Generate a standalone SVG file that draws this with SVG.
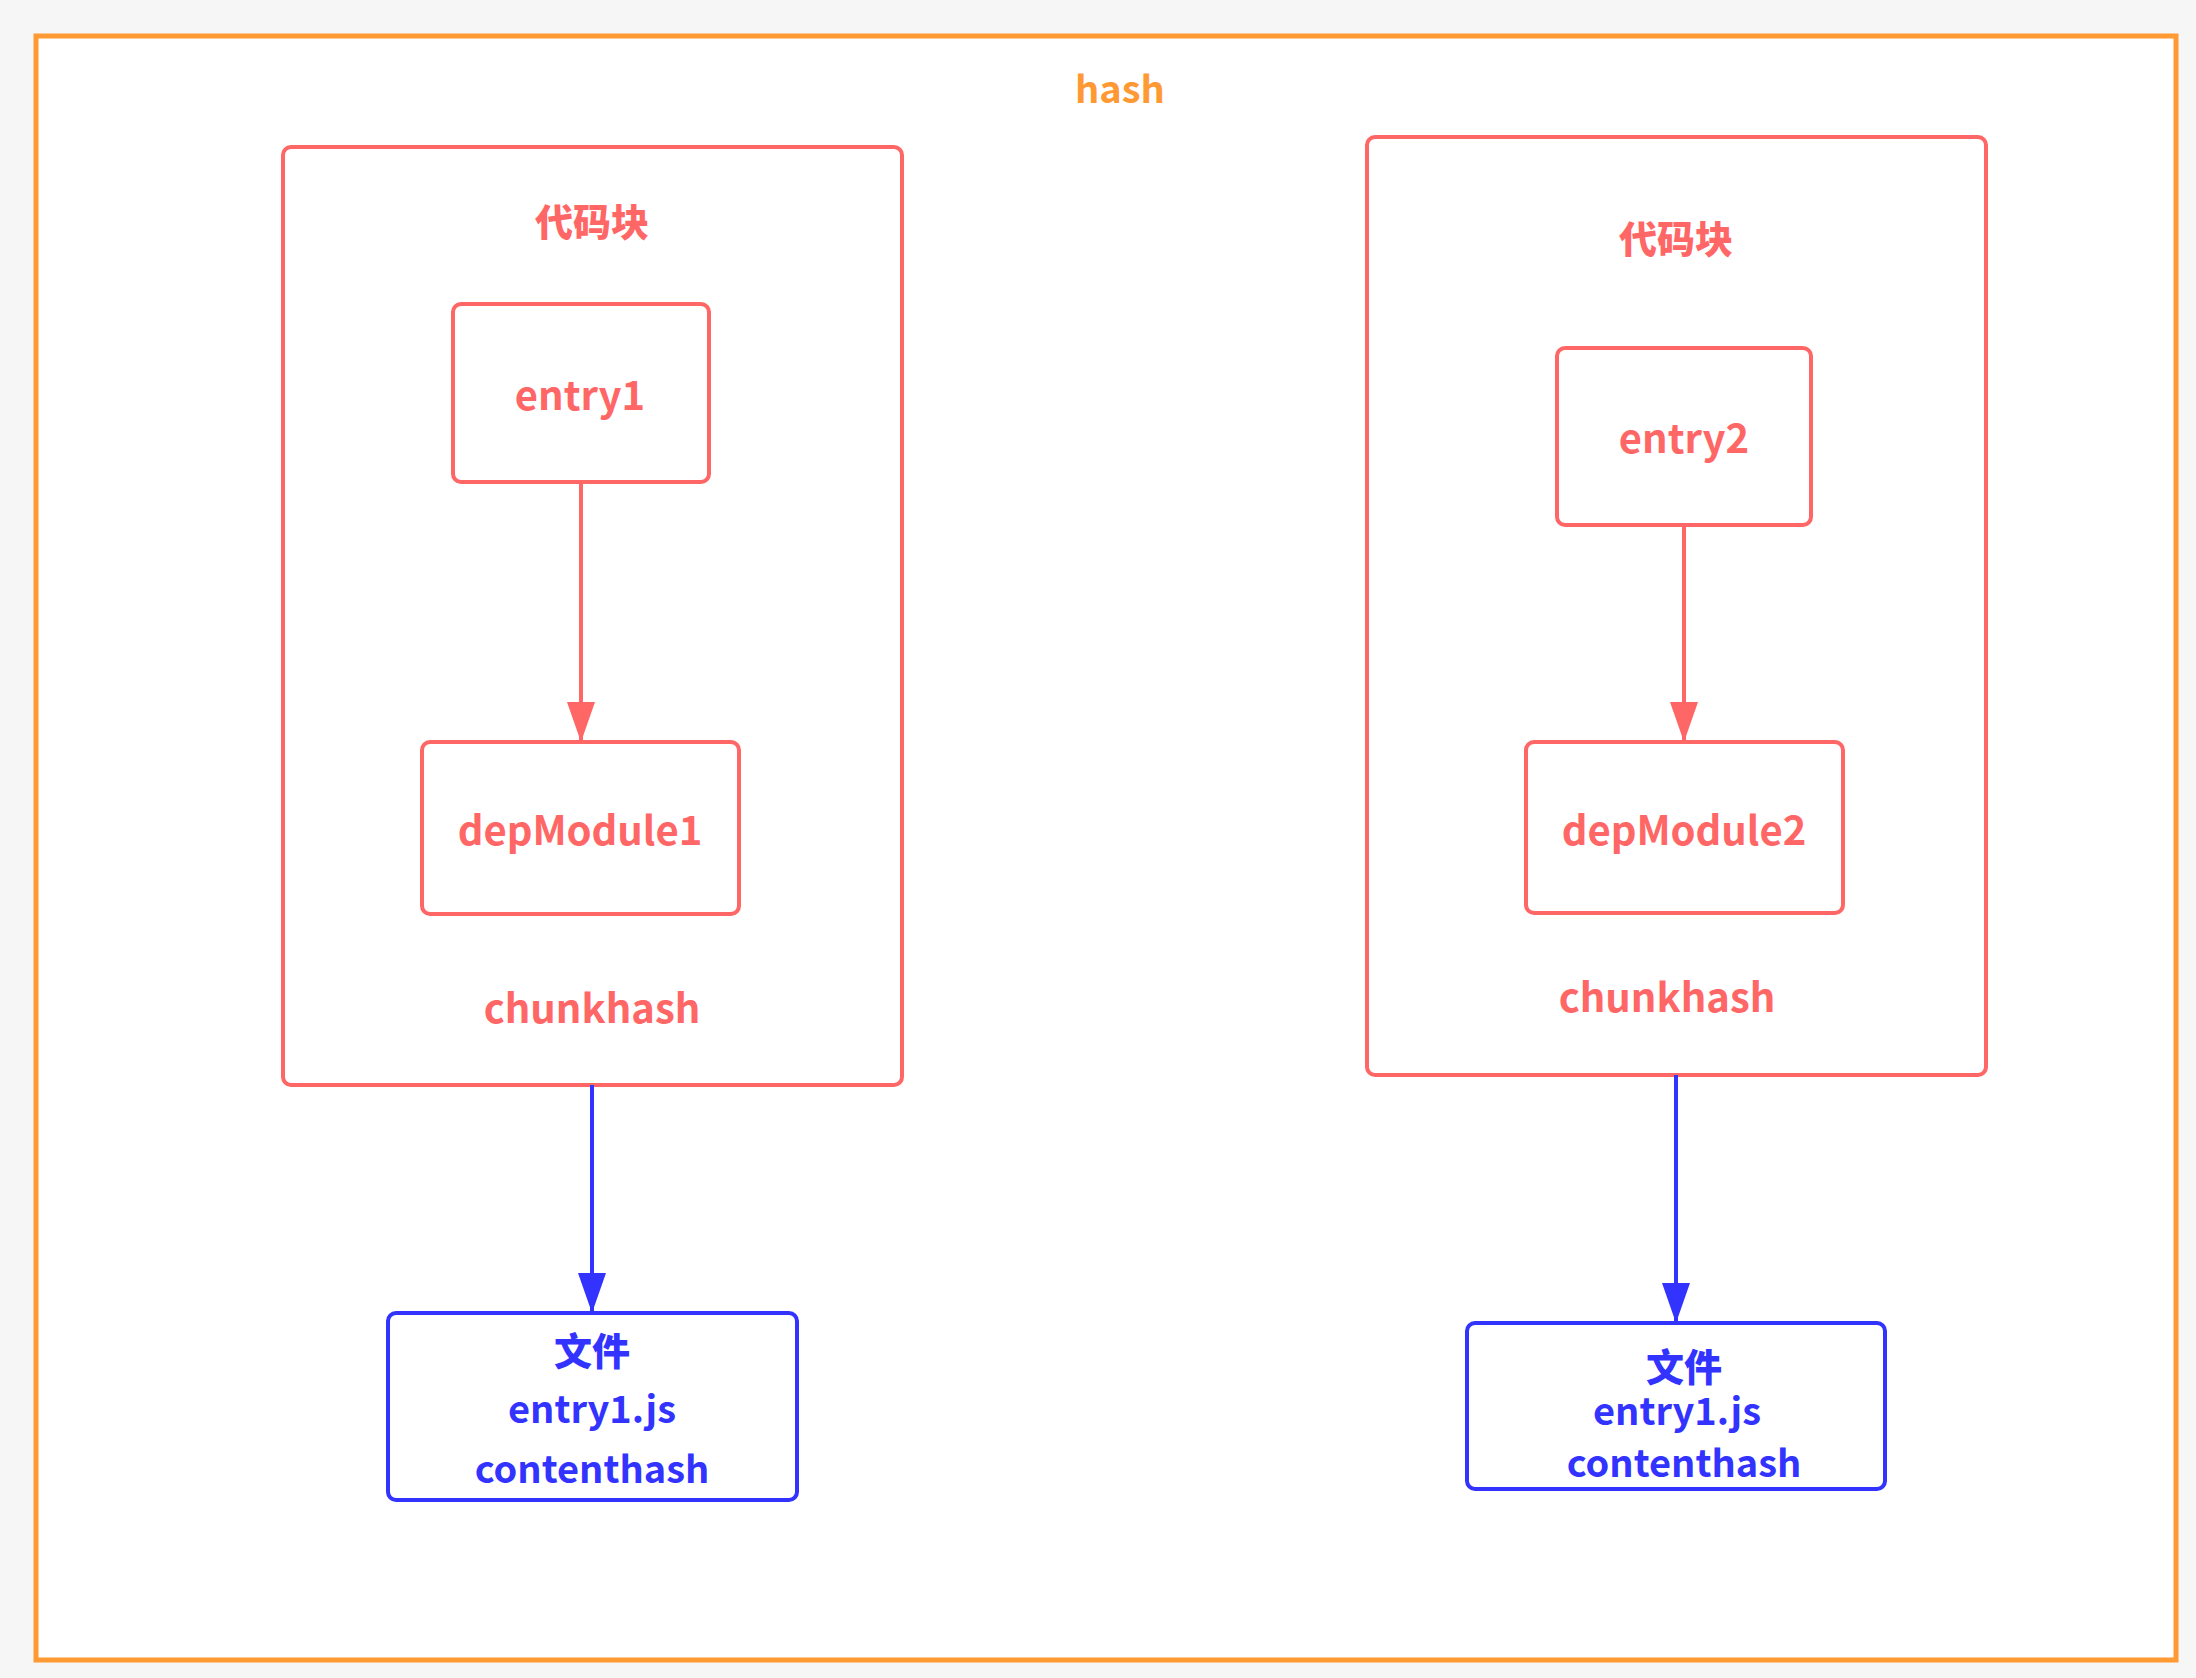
<svg xmlns="http://www.w3.org/2000/svg" width="2196" height="1678" viewBox="0 0 2196 1678">
<defs>
<style>
.t{font-family:"Noto Sans CJK SC","Source Sans Pro","Liberation Sans",sans-serif;font-weight:700;text-anchor:middle}
.red{fill:#FF6666}
.blue{fill:#3333FF}
.rbox{fill:#FFFFFF;stroke:#FF6666;stroke-width:4}
.bbox{fill:#FFFFFF;stroke:#3333FF;stroke-width:4}
.lat{font-size:40px}
.fl{font-size:38px}
.cjk{font-size:38px;font-weight:900}
.rl{stroke:#FF6666;stroke-width:4;fill:none}
.bl{stroke:#3333FF;stroke-width:4;fill:none}
</style>
<marker id="ab" viewBox="0 0 40 28" refX="40" refY="14" markerWidth="40" markerHeight="28" markerUnits="userSpaceOnUse" orient="auto">
<path d="M0,0 L40,14 L0,28 Z" fill="#3333FF"/>
</marker>
<marker id="ar" viewBox="0 0 40 28" refX="40" refY="14" markerWidth="40" markerHeight="28" markerUnits="userSpaceOnUse" orient="auto">
<path d="M0,0 L40,14 L0,28 Z" fill="#FF6666"/>
</marker>
</defs>
<rect x="0" y="0" width="2196" height="1678" fill="#F6F6F6"/>
<g id="hash">
<rect x="36" y="36" width="2140" height="1624" fill="#FFFFFF" stroke="#FF9933" stroke-width="5"/>
<text class="t" x="1120" y="103" font-size="38" fill="#FF9933">hash</text>
</g>
<g id="chunk1">
<rect class="rbox" x="283" y="147" width="619" height="938" rx="8"/>
<text class="t cjk red" x="592" y="236">代码块</text>
<text class="t lat red" x="592" y="1023">chunkhash</text>
</g>
<g id="chunk2">
<rect class="rbox" x="1367" y="137" width="619" height="938" rx="8"/>
<text class="t cjk red" x="1676" y="253">代码块</text>
<text class="t lat red" x="1667" y="1012">chunkhash</text>
</g>
<g id="entry1">
<rect class="rbox" x="453" y="304" width="256" height="178" rx="8"/>
<text class="t lat red" x="580" y="410">entry1</text>
</g>
<g id="depModule1">
<rect class="rbox" x="422" y="742" width="317" height="172" rx="8"/>
<text class="t lat red" x="580" y="845">depModule1</text>
</g>
<g id="entry2">
<rect class="rbox" x="1557" y="348" width="254" height="177" rx="8"/>
<text class="t lat red" x="1684" y="453">entry2</text>
</g>
<g id="depModule2">
<rect class="rbox" x="1526" y="742" width="317" height="171" rx="8"/>
<text class="t lat red" x="1684" y="845">depModule2</text>
</g>
<g id="file1">
<rect class="bbox" x="388" y="1313" width="409" height="187" rx="8"/>
<text class="t cjk blue" x="592" y="1365">文件</text>
<text class="t fl blue" x="592" y="1423">entry1.js</text>
<text class="t fl blue" x="592" y="1483">contenthash</text>
</g>
<g id="file2">
<rect class="bbox" x="1467" y="1323" width="418" height="166" rx="8"/>
<text class="t cjk blue" x="1684" y="1381">文件</text>
<text class="t fl blue" x="1677" y="1425">entry1.js</text>
<text class="t fl blue" x="1684" y="1477">contenthash</text>
</g>
<g id="connectors">
<line class="rl" x1="581" y1="482" x2="581" y2="742" marker-end="url(#ar)"/>
<line class="rl" x1="1684" y1="525" x2="1684" y2="742" marker-end="url(#ar)"/>
<line class="bl" x1="592" y1="1085" x2="592" y2="1313" marker-end="url(#ab)"/>
<line class="bl" x1="1676" y1="1075" x2="1676" y2="1323" marker-end="url(#ab)"/>
</g>
</svg>
